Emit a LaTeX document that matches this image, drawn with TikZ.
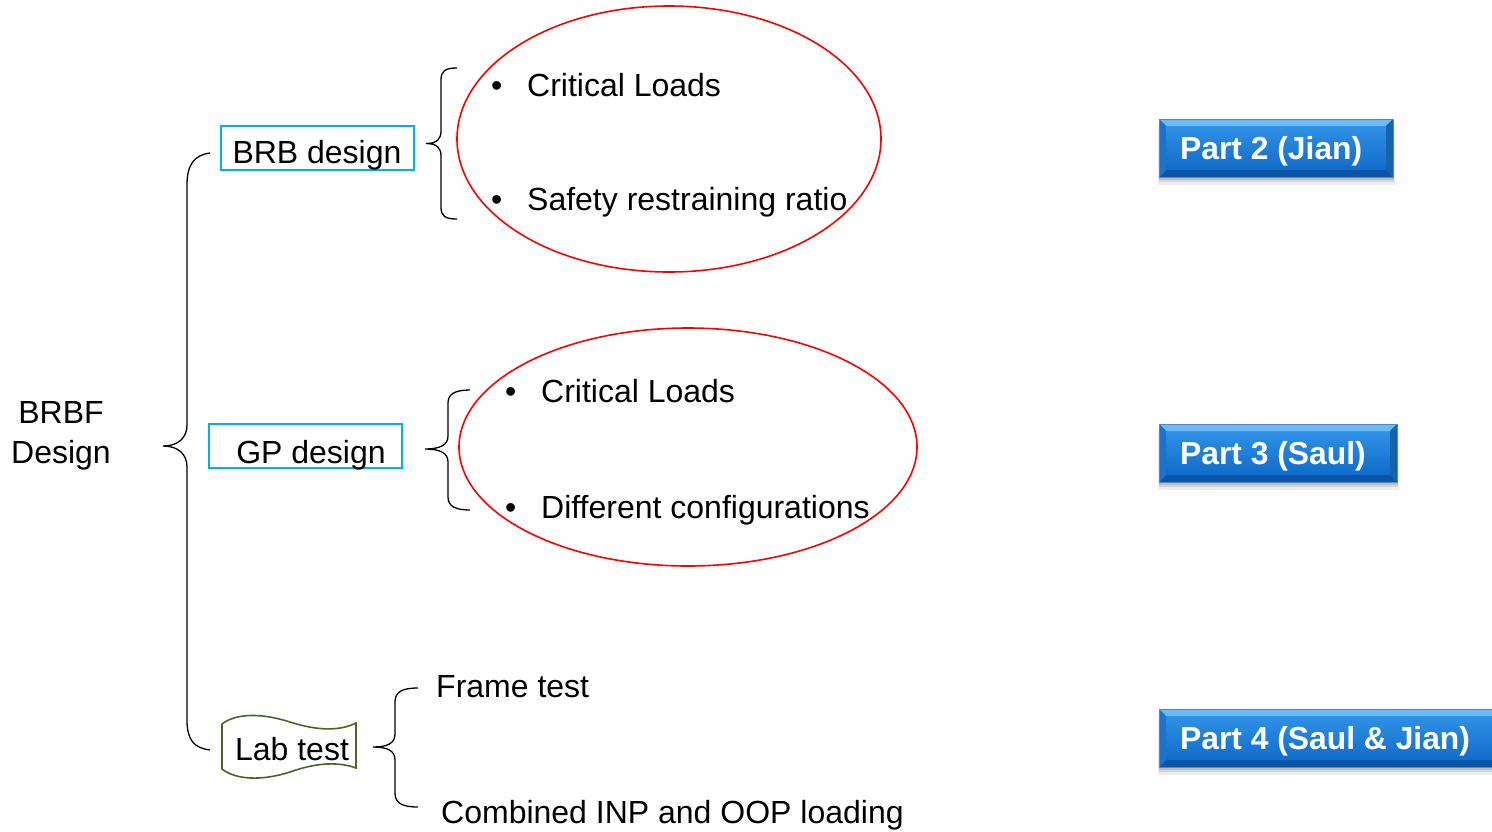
\documentclass[tikz,border=0pt]{standalone}
\usepackage{fontspec}
\setmainfont{Liberation Sans}
\usetikzlibrary{shapes.geometric}

\definecolor{boxcyan}{HTML}{00B0F0}
\definecolor{olive}{HTML}{4F6228}
\definecolor{bevtop}{HTML}{6DBBF4}
\definecolor{bevbot}{HTML}{0A55A6}
\definecolor{bevside}{HTML}{1A74CC}
\definecolor{facetop}{HTML}{3497EA}
\definecolor{facebot}{HTML}{0B66C6}

\tikzset{
  txt/.style={font=\fontsize{32}{38}\selectfont, inner sep=0pt},
  btntxt/.style={font=\bfseries\fontsize{31.8}{38}\selectfont, text=white, inner sep=0pt},
  cyanbox/.style={draw=boxcyan, line width=1.8pt, inner sep=0pt},
  redell/.style={ellipse, draw=red, line width=1.6pt, inner sep=0pt},
  brace/.style={draw=black, line width=1.3pt},
}

% bevelled blue button: #1 name, #2 x1, #3 y1, #4 x2, #5 y2, #6 label
\newcommand\partbtn[6]{%
  \fill[black, opacity=0.07] (#2-1,#3+4) rectangle (#4+2,#5+8);
  \fill[black, opacity=0.10] (#2,#3+2) rectangle (#4+1,#5+5);
  \fill[black, opacity=0.10] (#2,#3+1) rectangle (#4+0.5,#5+2.5);
  \shade[top color=facetop, bottom color=facebot] (#2,#3) rectangle (#4,#5);
  \fill[bevtop] (#2,#3) -- (#4,#3) -- (#4-7,#3+7) -- (#2+7,#3+7) -- cycle;
  \fill[bevbot] (#2,#5) -- (#4,#5) -- (#4-7,#5-7) -- (#2+7,#5-7) -- cycle;
  \fill[bevside] (#2,#3) -- (#2+7,#3+7) -- (#2+7,#5-7) -- (#2,#5) -- cycle;
  \fill[bevside!85!black] (#4,#3) -- (#4-7,#3+7) -- (#4-7,#5-7) -- (#4,#5) -- cycle;
  \draw[bevbot!70!white, line width=0.6pt] (#2,#3) rectangle (#4,#5);
  \node[btntxt, anchor=base west] (#1) at (1180,{(#3+#5)/2+11}) {#6};
}

\begin{document}
\begin{tikzpicture}[x=1pt, y=-1pt]
\useasboundingbox (0,0) rectangle (1492,831);

% root label
\node[txt, anchor=base] (brbf)  at (61,423) {BRBF};
\node[txt, anchor=base] (brbfd) at (61,463) {Design};

% main grouping brace
\draw[brace] (210,153) .. controls (194,155) and (187,165) .. (187,185)
  -- (187,425) .. controls (187,438) and (178,446) .. (163,446)
  .. controls (178,446) and (187,454) .. (187,467)
  -- (187,720) .. controls (187,740) and (194,748) .. (210,750);

% branch boxes
\node[cyanbox, minimum width=193, minimum height=44] (brb) at (317.5,148) {};
\node[txt, anchor=base] (brbt) at (317,163) {BRB design};

\node[cyanbox, minimum width=193, minimum height=44] (gp) at (305.5,446) {};
\node[txt, anchor=base] (gpt) at (311,463) {GP design};

% wavy banner for the lab test
\draw[olive, line width=1.6pt, fill=white]
  (222,724) .. controls (236,713) and (262,713) .. (290,722)
  .. controls (318,731) and (340,731) .. (356,723)
  -- (356,768) .. controls (340,762) and (318,762) .. (290,772)
  .. controls (262,781) and (236,780) .. (222,769) -- cycle;
\node[txt, anchor=base] (lab) at (292,760) {Lab test};

% BRB design details
\draw[brace] (457,68) .. controls (445,68) and (441,71) .. (441,80)
  -- (441,131) .. controls (441,139) and (437,143.5) .. (426,143.5)
  .. controls (437,143.5) and (441,148) .. (441,156)
  -- (441,207) .. controls (441,216) and (445,219) .. (457,219);
\node[redell, minimum width=424, minimum height=266] (e1) at (669,139) {};
\node[txt, anchor=base west] (cl1) at (491,96) {\makebox[36pt][l]{•}Critical Loads};
\node[txt, anchor=base west] (sr)  at (491,210) {\makebox[36pt][l]{•}Safety restraining ratio};

% GP design details
\draw[brace] (470,390) .. controls (455,390) and (448,394) .. (448,403)
  -- (448,436) .. controls (448,445) and (440,449) .. (425,449)
  .. controls (440,449) and (448,453) .. (448,462)
  -- (448,497) .. controls (448,506) and (455,510) .. (470,510);
\node[redell, minimum width=458, minimum height=238] (e2) at (688,447) {};
\node[txt, anchor=base west] (cl2) at (505,402) {\makebox[36pt][l]{•}Critical Loads};
\node[txt, anchor=base west] (dc)  at (505,518) {\makebox[36pt][l]{•}Different configurations};

% lab test details
\draw[brace] (418,688) .. controls (402,688) and (395,692) .. (395,702)
  -- (395,734) .. controls (395,743) and (388,747) .. (373,747)
  .. controls (388,747) and (395,751) .. (395,760)
  -- (395,793) .. controls (395,803) and (402,807) .. (418,807);
\node[txt, anchor=base west] (ft) at (436,697) {Frame test};
\node[txt, anchor=base west] (cb) at (441,823) {Combined INP and OOP loading};

% work packages
\partbtn{p2}{1159}{119}{1393}{177}{Part 2 (Jian)}
\partbtn{p3}{1159}{424}{1397}{482}{Part 3 (Saul)}
\partbtn{p4}{1159}{709}{1500}{767}{Part 4 (Saul \& Jian)}
\end{tikzpicture}
\end{document}
